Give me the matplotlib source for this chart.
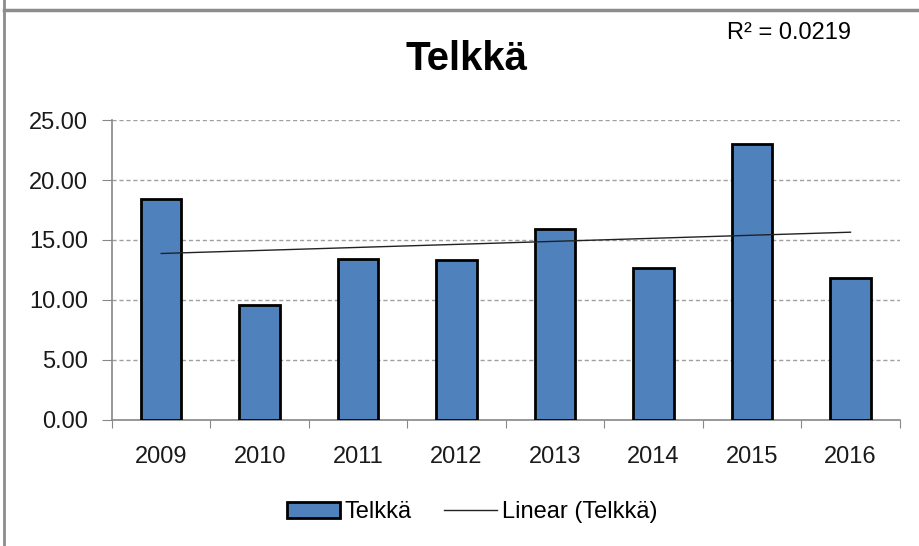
import numpy as np
import matplotlib.pyplot as plt
from matplotlib.lines import Line2D

years = ['2009', '2010', '2011', '2012', '2013', '2014', '2015', '2016']
values = [18.4, 9.6, 13.4, 13.3, 15.9, 12.7, 23.0, 11.8]
y_ticks = [0, 5, 10, 15, 20, 25]
r2_label = 'R² = 0.0219'

plt.rcParams['font.family'] = ['Liberation Sans', 'DejaVu Sans']

fig = plt.figure(figsize=(9.2, 5.46), dpi=100)
ax = fig.add_axes([0.1217, 0.2308, 0.8563, 0.5494])

x = np.arange(len(years))
ax.bar(x, values, width=0.41, color='#4F81BD', edgecolor='black', linewidth=2,
       label='Telkkä', zorder=3)

# linear trend
slope, icpt = np.polyfit(x, values, 1)
ax.plot(x, slope * x + icpt, color='#222222', linewidth=1, label='Linear (Telkkä)', zorder=4)

ax.set_xlim(-0.5, len(years) - 0.5)
ax.set_ylim(0, 25)
ax.set_yticks(y_ticks)
ax.set_yticklabels(['%.2f' % v for v in y_ticks], fontsize=17, color='#1a1a1a')
ax.yaxis.grid(True, linestyle=(0, (3, 2)), color='#A0A0A0', linewidth=1, zorder=0)
ax.set_axisbelow(True)

ax.set_xticks(np.arange(-0.5, len(years), 1))
ax.set_xticklabels([])
ax.set_xticks(x, minor=True)
ax.set_xticklabels(years, minor=True, fontsize=17, color='#1a1a1a')
ax.tick_params(axis='x', which='major', length=6, color='#888888', direction='out')
ax.tick_params(axis='x', which='minor', length=0, pad=19)
ax.tick_params(axis='y', length=7, color='#888888', pad=10)

for s in ['top', 'right']:
    ax.spines[s].set_visible(False)
for s in ['left', 'bottom']:
    ax.spines[s].set_color('#888888')
    ax.spines[s].set_linewidth(1.2)

fig.text(0.507, 0.892, 'Telkkä', ha='center', va='center', fontsize=29, fontweight='bold')
fig.text(0.79, 0.94, r2_label, ha='left', va='center', fontsize=17)

handles, labels = ax.get_legend_handles_labels()
fig.legend(handles[::-1], labels[::-1], loc='center', bbox_to_anchor=(0.513, 0.062), ncol=2,
           frameon=False, fontsize=17, handlelength=2.25, handletextpad=0.2, columnspacing=1.35)

# chart border
fig.add_artist(Line2D([0.004, 0.004], [0, 1], transform=fig.transFigure, color='#8C8C8C', linewidth=2))
fig.add_artist(Line2D([0.004, 1], [0.982, 0.982], transform=fig.transFigure, color='#8C8C8C', linewidth=2.5))

fig.savefig('out.png', dpi=100)
